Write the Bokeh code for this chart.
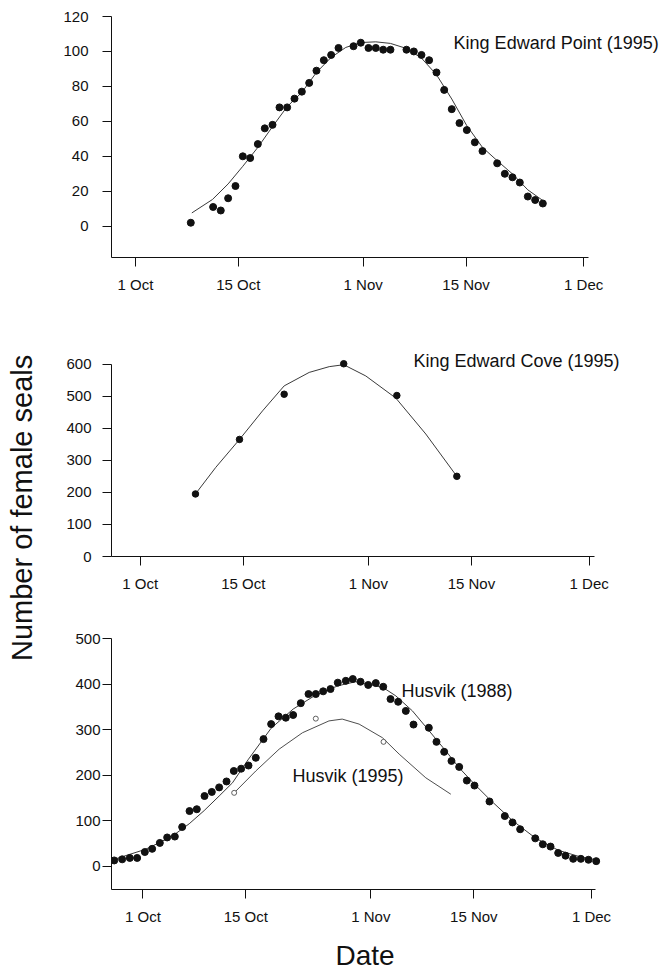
import math
from bokeh.plotting import figure
from bokeh.models import Range1d, FixedTicker, Label
from bokeh.layouts import row, column
from bokeh.embed import file_html
from bokeh.resources import INLINE

# ---------------- data (days since 1 Oct) ----------------
tick_days = [0, 14, 31, 45, 61]
tick_labels = ["1 Oct", "15 Oct", "1 Nov", "15 Nov", "1 Dec"]

# King Edward Point (1995)
kep_days = [7.54, 10.58, 11.62, 12.62, 13.62, 14.62, 15.62, 16.66, 17.61, 18.66, 19.61,
            20.65, 21.65, 22.65, 23.65, 24.64, 25.64, 26.64, 27.64, 29.68, 30.67, 31.72,
            32.71, 33.72, 34.71, 36.89, 37.89, 38.93, 39.97, 40.97, 42.02, 43.05, 44.1,
            45.1, 46.19, 47.23, 49.23, 50.27, 51.31, 52.31, 53.4, 54.4, 55.44]
kep_counts = [2, 11, 9, 16, 23, 40, 39, 47, 56, 58, 68, 68, 73, 77, 82, 89, 95, 98, 102,
              103, 105, 102, 102, 101, 101, 101, 100, 98, 95, 88, 78, 67, 59, 55, 48, 43,
              36, 30, 28, 25, 17, 15, 13]
kep_fit_days = [7.68, 10.49, 12.62, 14.62, 16.66, 18.66, 20.65, 22.65, 24.64, 26.64, 28.63,
                30.67, 32.71, 34.71, 36.89, 38.93, 40.97, 43.05, 45.1, 47.23, 49.23, 51.31,
                53.4, 55.44]
kep_fit_vals = [7.6, 15.3, 24.2, 34.3, 45.1, 57.0, 68.4, 76.6, 88.0, 96.6, 102.3, 105.1,
                105.5, 104.6, 101.7, 96.2, 86.7, 72.8, 57.5, 45.1, 37.5, 29.9, 20.8, 14.7]

# King Edward Cove (1995)
kec_days = [7.51, 13.49, 19.56, 27.65, 34.87, 43.02]
kec_counts = [195, 365, 506, 601, 502, 250]
kec_fit_days = [7.51, 10.27, 13.49, 16.62, 19.56, 22.96, 25.68, 27.65, 30.65, 34.73, 38.8, 43.02]
kec_fit_vals = [195, 278, 365, 454, 532, 574, 592, 598, 563, 494, 382, 250]

# Husvik (1988)
h88_days = [-3.9, -2.82, -1.78, -0.78, 0.26, 1.26, 2.3, 3.3, 4.34, 5.34, 6.34, 7.33, 8.38,
            9.37, 10.37, 11.37, 12.36, 13.36, 14.36, 15.35, 16.4, 17.44, 18.44, 19.43, 20.43,
            21.47, 22.52, 23.51, 24.51, 25.51, 26.5, 27.59, 28.54, 29.59, 30.64, 31.67, 32.68,
            33.67, 34.71, 35.75, 36.8, 38.88, 39.92, 40.97, 41.96, 43.01, 44.05, 45.09, 47.13,
            49.21, 50.26, 51.3, 53.35, 54.38, 55.43, 56.47, 57.47, 58.51, 59.55, 60.59, 61.64]
h88_counts = [12.5, 15, 18, 18, 31, 38, 51, 63, 65, 86, 121, 125, 154, 163, 173, 186, 209,
              214, 221, 238, 279, 312, 329, 326, 332, 358, 378, 378, 384, 389, 403, 407, 411,
              405, 398, 402, 394, 367, 361, 341, 311, 304, 273, 251, 231, 218, 188, 177, 142,
              110, 96, 81, 61, 48, 43, 29, 23, 16, 16, 14, 11]
h88_fit_days = [-3.9, 0.36, 2.67, 4.34, 6.29, 8.33, 10.37, 12.18, 14.36, 17.44, 20.43, 23.51,
                26.5, 28.9, 30.31, 32.68, 34.39, 36.65, 38.93, 41.19, 43.01, 45.09, 47.13,
                50.26, 53.35, 56.47, 59.55, 61.64]
h88_fit_vals = [15, 37, 55, 70, 93, 122, 154, 183, 235, 303, 345, 376, 396, 405, 401, 392,
                374, 341, 297, 253, 216, 180, 147, 100, 62, 35, 20, 14]

# Husvik (1995)
h95_days = [12.41, 23.51, 32.72]
h95_counts = [161, 324, 273]
h95_fit_days = [12.41, 15.35, 18.53, 21.7, 25.3, 27.1, 29.4, 32.58, 34.85, 38.47, 41.87]
h95_fit_vals = [161, 209, 257, 293, 319, 323, 312, 282, 246, 194, 158]

FONT = "Liberation Sans"
INK = "#111111"
LINE = "#3a3a3a"

YLAB_W = 60          # width of the strip holding the shared y label
BORDER_L = 49        # left border of every panel (frame starts at 109)
FRAME_W = 555        # frame runs to the right edge so the site labels fit
TOTAL_H = 970


def make_panel(xr, x_axis_end, yr, y_bounds, yticks, fh, bt, bb, ylab_standoff):
    p = figure(frame_width=FRAME_W, frame_height=fh,
               x_range=Range1d(*xr), y_range=Range1d(*yr),
               min_border_left=BORDER_L, min_border_right=0,
               min_border_top=bt, min_border_bottom=bb,
               toolbar_location=None, output_backend="svg", title=None)
    p.outline_line_color = None
    p.grid.visible = False
    p.background_fill_color = "white"
    p.border_fill_color = "white"
    for ax in (p.xaxis[0], p.yaxis[0]):
        ax.axis_line_color = INK
        ax.axis_line_width = 1
        ax.major_tick_line_color = INK
        ax.major_tick_in = 0
        ax.major_tick_out = 9
        ax.minor_tick_line_color = None
        ax.major_label_text_font = FONT
        ax.major_label_text_font_size = "15px"
        ax.major_label_text_color = INK
    p.xaxis.ticker = FixedTicker(ticks=tick_days)
    p.xaxis.major_label_overrides = {d: t for d, t in zip(tick_days, tick_labels)}
    p.xaxis.major_label_standoff = 9
    p.xaxis.bounds = (xr[0], x_axis_end)
    p.yaxis.ticker = FixedTicker(ticks=yticks)
    p.yaxis.major_label_standoff = ylab_standoff
    p.yaxis.bounds = y_bounds
    return p


def add_label(p, x, y, text, size="18px"):
    p.add_layout(Label(x=x, y=y, text=text, text_font=FONT, text_font_size=size,
                       text_color=INK, text_align="left", text_baseline="middle"))


# ---------------- panel 1 ----------------
p1 = make_panel((-3.25, -3.25 + FRAME_W / 7.349), 61.65, (-17.9, 120), (-17.9, 120),
                list(range(0, 121, 20)), 241, 16, 53, 14)
p1.line(kep_fit_days, kep_fit_vals, line_color=LINE, line_width=1)
p1.scatter(kep_days, kep_counts, size=7, fill_color=INK, line_color=INK)
add_label(p1, 43.3, 105.1, "King Edward Point (1995)")

# ---------------- panel 2 ----------------
p2 = make_panel((-3.9, -3.9 + FRAME_W / 7.36), 61.68, (0, 216 / 0.3207), (0, 600),
                list(range(0, 601, 100)), 216, 30, 44, 11)
p2.line(kec_fit_days, kec_fit_vals, line_color=LINE, line_width=1)
p2.scatter(kec_days, kec_counts, size=6.5, fill_color=INK, line_color=INK)
add_label(p2, 37.13, 610, "King Edward Cove (1995)")

# ---------------- panel 3 ----------------
p3 = make_panel((-4.27, -4.27 + FRAME_W / 7.354), 61.6, (-51.3, 500), (-51.3, 500),
                list(range(0, 501, 100)), 251, 38, 41, 2)
p3.line(h88_fit_days, h88_fit_vals, line_color=LINE, line_width=1)
p3.line(h95_fit_days, h95_fit_vals, line_color=LINE, line_width=0.9)
p3.scatter(h88_days, h88_counts, size=7, fill_color=INK, line_color=INK)
p3.scatter(h95_days, h95_counts, size=5, fill_color="white", line_color=LINE, line_width=0.8)
add_label(p3, 35.16, 385, "Husvik (1988)")
add_label(p3, 20.34, 198, "Husvik (1995)")

# ---------------- x-axis title strip ----------------
DATE_H = 40
pd_ = figure(frame_width=FRAME_W, frame_height=DATE_H,
             x_range=Range1d(0, FRAME_W), y_range=Range1d(0, DATE_H),
             min_border_left=BORDER_L, min_border_right=0, min_border_top=0, min_border_bottom=0,
             toolbar_location=None, output_backend="svg", title=None,
             x_axis_location=None, y_axis_location=None)
pd_.outline_line_color = None
pd_.grid.visible = False
pd_.add_layout(Label(x=253.5, y=15, text="Date", text_font=FONT, text_font_size="28px",
                     text_color=INK, text_align="center", text_baseline="middle"))

# ---------------- shared y label ----------------
py = figure(width=YLAB_W, height=TOTAL_H, x_range=Range1d(0, YLAB_W), y_range=Range1d(0, TOTAL_H),
            min_border=0, toolbar_location=None, output_backend="svg", title=None,
            x_axis_location=None, y_axis_location=None)
py.outline_line_color = None
py.grid.visible = False
py.add_layout(Label(x=21, y=TOTAL_H - 507.4, text="Number of female seals", angle=math.pi / 2,
                    text_font=FONT, text_font_size="29px", text_color=INK,
                    text_align="center", text_baseline="middle"))

layout = row(py, column(p1, p2, p3, pd_))
open("out.html", "w").write(file_html(layout, INLINE))
